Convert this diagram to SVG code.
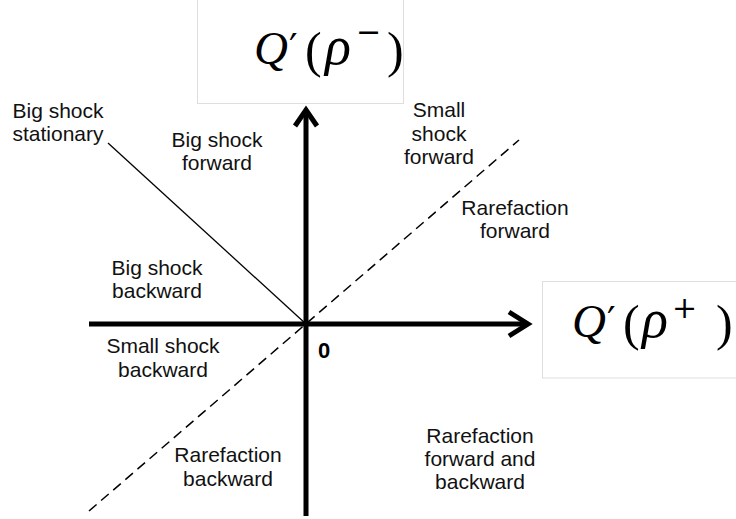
<svg xmlns="http://www.w3.org/2000/svg" width="736" height="519" viewBox="0 0 736 519">
<style>
.lbl{font-family:"Liberation Sans",Arial,sans-serif;font-size:21px;fill:#111;text-anchor:middle}
.box{fill:#fff;stroke:#dedede;stroke-width:1}
.axis{stroke:#000;stroke-width:5;fill:none}
.head{stroke:#000;stroke-width:5;fill:none;stroke-linejoin:miter;stroke-linecap:butt}
.mi{font-family:"Liberation Serif","DejaVu Serif",serif;font-style:italic;font-size:47px;fill:#000}
.rho{font-family:"Liberation Serif","DejaVu Serif",serif;font-style:italic;font-size:54px;fill:#000}
.mr{font-family:"Liberation Serif","DejaVu Serif",serif;font-size:50px;fill:#000}
.ms{font-family:"DejaVu Serif","Liberation Serif",serif;font-size:30px;fill:#000}
.pr{font-family:"DejaVu Sans",sans-serif;font-size:38px;fill:#000}
</style>
<rect width="736" height="519" fill="#fff"/>
<g id="label-qminus">
  <rect class="box" x="197.5" y="-1" width="206" height="104.5"/>
  <text class="mi" x="254" y="64">Q</text>
  <text class="pr" x="289" y="60">′</text>
  <text class="mr" x="305" y="67">(</text>
  <text class="rho" x="325" y="64">ρ</text>
  <text class="ms" x="356" y="42">−</text>
  <text class="mr" x="387" y="67">)</text>
</g>
<g id="label-qplus">
  <rect class="box" x="542.5" y="281.5" width="200" height="96.5"/>
  <text class="mi" x="572" y="337">Q</text>
  <text class="pr" x="607" y="333">′</text>
  <text class="mr" x="623" y="340">(</text>
  <text class="rho" x="642" y="337">ρ</text>
  <text class="ms" x="672" y="318">+</text>
  <text class="mr" x="716" y="340">)</text>
</g>
<g id="connectors">
  <line x1="306" y1="112" x2="306" y2="516" class="axis"/>
  <line x1="89" y1="324" x2="527" y2="324" class="axis"/>
  <path class="head" d="M295,126 L306,110 L317,126"/>
  <path class="head" d="M509,312 L528,324 L509,336"/>
  <line x1="108" y1="143" x2="306" y2="324" stroke="#000" stroke-width="1.3"/>
  <line x1="89" y1="511" x2="519" y2="140" stroke="#000" stroke-width="1.5" stroke-dasharray="10,6"/>
</g>
<g id="region-big-shock-stationary">
  <text class="lbl" x="58" y="118">Big shock</text>
  <text class="lbl" x="58" y="141">stationary</text>
</g>
<g id="region-big-shock-forward">
  <text class="lbl" x="217" y="147">Big shock</text>
  <text class="lbl" x="217" y="170">forward</text>
</g>
<g id="region-small-shock-forward">
  <text class="lbl" x="439" y="117">Small</text>
  <text class="lbl" x="439" y="141">shock</text>
  <text class="lbl" x="439" y="164">forward</text>
</g>
<g id="region-rarefaction-forward">
  <text class="lbl" x="515" y="215">Rarefaction</text>
  <text class="lbl" x="515" y="238">forward</text>
</g>
<g id="region-big-shock-backward">
  <text class="lbl" x="157" y="275">Big shock</text>
  <text class="lbl" x="157" y="298">backward</text>
</g>
<g id="region-small-shock-backward">
  <text class="lbl" x="163" y="353">Small shock</text>
  <text class="lbl" x="163" y="377">backward</text>
</g>
<g id="region-rarefaction-backward">
  <text class="lbl" x="228" y="462">Rarefaction</text>
  <text class="lbl" x="228" y="486">backward</text>
</g>
<g id="region-rarefaction-both">
  <text class="lbl" x="480" y="443">Rarefaction</text>
  <text class="lbl" x="480" y="466">forward and</text>
  <text class="lbl" x="480" y="489">backward</text>
</g>
<g id="origin">
  <text x="318" y="358" font-family="Liberation Sans,Arial,sans-serif" font-weight="bold" font-size="22px" fill="#000">0</text>
</g>
</svg>
